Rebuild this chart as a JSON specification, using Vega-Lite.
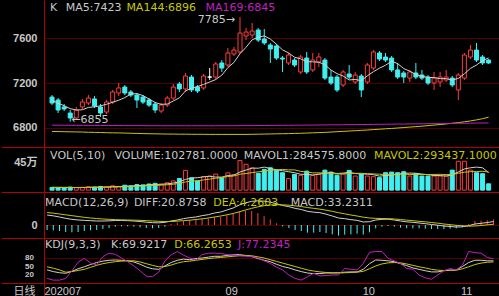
{
"$schema":"https://vega.github.io/schema/vega-lite/v6.json",
"background":"#000000","padding":0,"spacing":0,"bounds":"flush",
"config":{"view":{"stroke":null},"text":{"font":"DejaVu Sans","fontSize":11},
"axis":{"labelFont":"Liberation Sans, Noto Sans CJK SC","labelFontWeight":"bold","labelFontSize":11,"labelColor":"#c8c8c8","title":null,"domainColor":"#b00000","gridWidth":1,"minExtent":43,"maxExtent":43,"labelOverlap":false,"labelBound":false}},
"datasets":{"d":[
{"i":0,"o":7075,"h":7093,"l":7004,"c":7022,"m5":7045,"m144":6769,"m169":6825,"v":45000,"mv1":45000,"mv2":45000,"dif":60,"dea":75,"macd":-30,"k":38,"d":49,"j":8},
{"i":1,"o":7049,"h":7066,"l":6933,"c":6960,"m5":7020,"m144":6768,"m169":6825,"v":40000,"mv1":45000,"mv2":45000,"dif":55,"dea":71,"macd":-32,"k":32,"d":44,"j":2},
{"i":2,"o":6987,"h":7013,"l":6951,"c":6969,"m5":6998,"m144":6767,"m169":6825,"v":35000,"mv1":44000,"mv2":45000,"dif":48,"dea":66,"macd":-36,"k":28,"d":38,"j":2},
{"i":3,"o":6933,"h":6960,"l":6855,"c":6889,"m5":6972,"m144":6766,"m169":6824,"v":50000,"mv1":44000,"mv2":44000,"dif":40,"dea":61,"macd":-42,"k":26,"d":30,"j":8},
{"i":4,"o":6889,"h":6987,"l":6871,"c":6960,"m5":6960,"m144":6765,"m169":6824,"v":40000,"mv1":42000,"mv2":43000,"dif":34,"dea":56,"macd":-44,"k":33,"d":32,"j":35},
{"i":5,"o":6987,"h":7058,"l":6969,"c":7031,"m5":6962,"m144":6764,"m169":6824,"v":45000,"mv1":42000,"mv2":44000,"dif":30,"dea":51,"macd":-42,"k":42,"d":36,"j":65},
{"i":6,"o":7022,"h":7093,"l":7004,"c":7066,"m5":6983,"m144":6762,"m169":6823,"v":55000,"mv1":45000,"mv2":45000,"dif":28,"dea":46,"macd":-36,"k":49,"d":40,"j":79},
{"i":7,"o":7058,"h":7084,"l":6978,"c":6996,"m5":6988,"m144":6761,"m169":6823,"v":50000,"mv1":48000,"mv2":46000,"dif":26,"dea":42,"macd":-32,"k":57,"d":47,"j":62},
{"i":8,"o":6987,"h":7013,"l":6898,"c":6933,"m5":6997,"m144":6760,"m169":6823,"v":60000,"mv1":50000,"mv2":47000,"dif":24,"dea":39,"macd":-30,"k":64,"d":54,"j":56},
{"i":9,"o":6942,"h":7049,"l":6924,"c":7031,"m5":7011,"m144":6758,"m169":6822,"v":50000,"mv1":52000,"mv2":47000,"dif":24,"dea":36,"macd":-24,"k":69,"d":60,"j":85},
{"i":10,"o":7031,"h":7138,"l":7013,"c":7120,"m5":7029,"m144":6757,"m169":6822,"v":70000,"mv1":57000,"mv2":50000,"dif":25,"dea":34,"macd":-18,"k":72,"d":64,"j":97},
{"i":11,"o":7111,"h":7200,"l":7084,"c":7156,"m5":7047,"m144":6756,"m169":6822,"v":60000,"mv1":58000,"mv2":52000,"dif":27,"dea":32,"macd":-10,"k":73,"d":67,"j":93},
{"i":12,"o":7164,"h":7182,"l":7093,"c":7111,"m5":7070,"m144":6755,"m169":6821,"v":80000,"mv1":64000,"mv2":56000,"dif":27,"dea":31,"macd":-8,"k":72,"d":69,"j":80},
{"i":13,"o":7120,"h":7138,"l":7075,"c":7093,"m5":7102,"m144":6753,"m169":6821,"v":70000,"mv1":66000,"mv2":58000,"dif":26,"dea":30,"macd":-8,"k":70,"d":70,"j":67},
{"i":14,"o":7093,"h":7111,"l":6978,"c":7049,"m5":7106,"m144":6752,"m169":6821,"v":90000,"mv1":74000,"mv2":63000,"dif":24,"dea":29,"macd":-10,"k":66,"d":70,"j":52},
{"i":15,"o":7075,"h":7093,"l":7013,"c":7031,"m5":7088,"m144":6750,"m169":6821,"v":85000,"mv1":77000,"mv2":67000,"dif":21,"dea":28,"macd":-14,"k":58,"d":66,"j":35},
{"i":16,"o":7049,"h":7066,"l":6987,"c":7004,"m5":7058,"m144":6749,"m169":6820,"v":100000,"mv1":85000,"mv2":72000,"dif":17,"dea":26,"macd":-18,"k":48,"d":60,"j":16},
{"i":17,"o":7013,"h":7031,"l":6933,"c":6960,"m5":7027,"m144":6748,"m169":6820,"v":110000,"mv1":91000,"mv2":78000,"dif":14,"dea":24,"macd":-20,"k":42,"d":54,"j":14},
{"i":18,"o":6951,"h":7022,"l":6933,"c":7004,"m5":7010,"m144":6747,"m169":6820,"v":95000,"mv1":96000,"mv2":81000,"dif":13,"dea":22,"macd":-18,"k":40,"d":49,"j":30},
{"i":19,"o":7004,"h":7084,"l":6987,"c":7066,"m5":7013,"m144":6746,"m169":6820,"v":120000,"mv1":102000,"mv2":88000,"dif":16,"dea":21,"macd":-10,"k":52,"d":50,"j":70},
{"i":20,"o":7066,"h":7191,"l":7049,"c":7164,"m5":7040,"m144":6746,"m169":6820,"v":150000,"mv1":115000,"mv2":96000,"dif":24,"dea":21,"macd":6,"k":64,"d":55,"j":91},
{"i":21,"o":7191,"h":7209,"l":7120,"c":7147,"m5":7068,"m144":6745,"m169":6820,"v":190000,"mv1":133000,"mv2":109000,"dif":30,"dea":23,"macd":14,"k":72,"d":62,"j":103},
{"i":22,"o":7147,"h":7289,"l":7120,"c":7262,"m5":7129,"m144":6745,"m169":6820,"v":320000,"mv1":175000,"mv2":133000,"dif":38,"dea":26,"macd":24,"k":76,"d":67,"j":90},
{"i":23,"o":7253,"h":7271,"l":7120,"c":7138,"m5":7155,"m144":6744,"m169":6820,"v":200000,"mv1":196000,"mv2":146000,"dif":44,"dea":29,"macd":30,"k":74,"d":69,"j":80},
{"i":24,"o":7164,"h":7182,"l":7111,"c":7129,"m5":7168,"m144":6744,"m169":6820,"v":150000,"mv1":202000,"mv2":152000,"dif":48,"dea":33,"macd":30,"k":78,"d":72,"j":73},
{"i":25,"o":7156,"h":7280,"l":7138,"c":7262,"m5":7188,"m144":6744,"m169":6820,"v":220000,"mv1":216000,"mv2":166000,"dif":56,"dea":37,"macd":38,"k":80,"d":75,"j":92},
{"i":26,"o":7253,"h":7333,"l":7227,"c":7253,"m5":7209,"m144":6743,"m169":6820,"v":230000,"mv1":224000,"mv2":179000,"dif":62,"dea":42,"macd":40,"k":83,"d":78,"j":97},
{"i":27,"o":7253,"h":7387,"l":7235,"c":7369,"m5":7231,"m144":6743,"m169":6820,"v":260000,"mv1":212000,"mv2":194000,"dif":72,"dea":48,"macd":48,"k":86,"d":80,"j":97},
{"i":28,"o":7378,"h":7404,"l":7298,"c":7333,"m5":7270,"m144":6743,"m169":6820,"v":200000,"mv1":212000,"mv2":204000,"dif":78,"dea":54,"macd":48,"k":86,"d":82,"j":96},
{"i":29,"o":7360,"h":7511,"l":7342,"c":7467,"m5":7337,"m144":6743,"m169":6820,"v":280000,"mv1":238000,"mv2":220000,"dif":90,"dea":61,"macd":58,"k":89,"d":84,"j":92},
{"i":30,"o":7458,"h":7520,"l":7440,"c":7493,"m5":7383,"m144":6743,"m169":6820,"v":250000,"mv1":244000,"mv2":230000,"dif":102,"dea":69,"macd":66,"k":91,"d":86,"j":90},
{"i":31,"o":7476,"h":7785,"l":7458,"c":7644,"m5":7461,"m144":6743,"m169":6821,"v":480000,"mv1":294000,"mv2":259000,"dif":120,"dea":79,"macd":82,"k":92,"d":88,"j":88},
{"i":32,"o":7618,"h":7689,"l":7582,"c":7653,"m5":7518,"m144":6743,"m169":6821,"v":420000,"mv1":326000,"mv2":269000,"dif":133,"dea":90,"macd":86,"k":89,"d":89,"j":86},
{"i":33,"o":7627,"h":7733,"l":7600,"c":7662,"m5":7584,"m144":6744,"m169":6821,"v":360000,"mv1":358000,"mv2":285000,"dif":142,"dea":100,"macd":84,"k":85,"d":88,"j":85},
{"i":34,"o":7671,"h":7689,"l":7564,"c":7582,"m5":7607,"m144":6745,"m169":6822,"v":272000,"mv1":356000,"mv2":297000,"dif":145,"dea":109,"macd":72,"k":78,"d":84,"j":80},
{"i":35,"o":7591,"h":7680,"l":7538,"c":7556,"m5":7619,"m144":6746,"m169":6822,"v":336000,"mv1":374000,"mv2":309000,"dif":143,"dea":116,"macd":54,"k":72,"d":80,"j":70},
{"i":36,"o":7538,"h":7556,"l":7378,"c":7502,"m5":7591,"m144":6747,"m169":6823,"v":363000,"mv1":350000,"mv2":322000,"dif":137,"dea":120,"macd":34,"k":67,"d":74,"j":61},
{"i":37,"o":7529,"h":7547,"l":7404,"c":7422,"m5":7545,"m144":6748,"m169":6823,"v":325000,"mv1":331000,"mv2":329000,"dif":127,"dea":122,"macd":10,"k":58,"d":68,"j":48},
{"i":38,"o":7422,"h":7440,"l":7298,"c":7413,"m5":7495,"m144":6749,"m169":6824,"v":283000,"mv1":316000,"mv2":337000,"dif":117,"dea":121,"macd":-8,"k":50,"d":62,"j":38},
{"i":39,"o":7378,"h":7467,"l":7360,"c":7449,"m5":7468,"m144":6750,"m169":6824,"v":187000,"mv1":299000,"mv2":328000,"dif":110,"dea":119,"macd":-18,"k":45,"d":56,"j":20},
{"i":40,"o":7404,"h":7422,"l":7342,"c":7360,"m5":7429,"m144":6752,"m169":6825,"v":256000,"mv1":283000,"mv2":329000,"dif":100,"dea":115,"macd":-30,"k":38,"d":50,"j":8},
{"i":41,"o":7298,"h":7449,"l":7280,"c":7431,"m5":7415,"m144":6753,"m169":6825,"v":240000,"mv1":258000,"mv2":304000,"dif":93,"dea":111,"macd":-36,"k":32,"d":44,"j":2},
{"i":42,"o":7422,"h":7476,"l":7280,"c":7298,"m5":7390,"m144":6755,"m169":6826,"v":309000,"mv1":255000,"mv2":293000,"dif":82,"dea":105,"macd":-46,"k":27,"d":38,"j":14},
{"i":43,"o":7316,"h":7467,"l":7298,"c":7404,"m5":7388,"m144":6757,"m169":6826,"v":240000,"mv1":246000,"mv2":281000,"dif":77,"dea":100,"macd":-46,"k":25,"d":34,"j":26},
{"i":44,"o":7387,"h":7467,"l":7342,"c":7431,"m5":7385,"m144":6759,"m169":6827,"v":256000,"mv1":260000,"mv2":280000,"dif":74,"dea":95,"macd":-42,"k":25,"d":31,"j":17},
{"i":45,"o":7404,"h":7422,"l":7227,"c":7244,"m5":7362,"m144":6761,"m169":6827,"v":325000,"mv1":274000,"mv2":279000,"dif":65,"dea":89,"macd":-48,"k":27,"d":29,"j":18},
{"i":46,"o":7253,"h":7316,"l":7182,"c":7200,"m5":7315,"m144":6764,"m169":6828,"v":293000,"mv1":285000,"mv2":272000,"dif":54,"dea":82,"macd":-56,"k":27,"d":28,"j":20},
{"i":47,"o":7253,"h":7271,"l":7120,"c":7138,"m5":7283,"m144":6767,"m169":6828,"v":240000,"mv1":271000,"mv2":263000,"dif":42,"dea":74,"macd":-64,"k":28,"d":27,"j":20},
{"i":48,"o":7182,"h":7316,"l":7164,"c":7298,"m5":7262,"m144":6770,"m169":6829,"v":267000,"mv1":276000,"mv2":261000,"dif":38,"dea":67,"macd":-58,"k":30,"d":28,"j":43},
{"i":49,"o":7280,"h":7360,"l":7235,"c":7253,"m5":7227,"m144":6773,"m169":6830,"v":320000,"mv1":289000,"mv2":275000,"dif":32,"dea":60,"macd":-56,"k":31,"d":29,"j":40},
{"i":50,"o":7209,"h":7298,"l":7191,"c":7271,"m5":7232,"m144":6776,"m169":6830,"v":229000,"mv1":270000,"mv2":272000,"dif":28,"dea":54,"macd":-52,"k":31,"d":30,"j":38},
{"i":51,"o":7262,"h":7280,"l":7075,"c":7138,"m5":7220,"m144":6779,"m169":6831,"v":256000,"mv1":262000,"mv2":274000,"dif":18,"dea":47,"macd":-58,"k":40,"d":33,"j":61},
{"i":52,"o":7209,"h":7378,"l":7191,"c":7360,"m5":7264,"m144":6782,"m169":6831,"v":229000,"mv1":260000,"mv2":266000,"dif":20,"dea":42,"macd":-44,"k":60,"d":42,"j":100},
{"i":53,"o":7333,"h":7493,"l":7316,"c":7476,"m5":7300,"m144":6786,"m169":6832,"v":219000,"mv1":251000,"mv2":264000,"dif":30,"dea":40,"macd":-20,"k":73,"d":52,"j":103},
{"i":54,"o":7467,"h":7484,"l":7396,"c":7413,"m5":7332,"m144":6789,"m169":6833,"v":203000,"mv1":227000,"mv2":258000,"dif":34,"dea":39,"macd":-10,"k":72,"d":59,"j":103},
{"i":55,"o":7431,"h":7467,"l":7387,"c":7404,"m5":7358,"m144":6793,"m169":6833,"v":283000,"mv1":238000,"mv2":254000,"dif":35,"dea":38,"macd":-6,"k":70,"d":63,"j":79},
{"i":56,"o":7422,"h":7440,"l":7298,"c":7316,"m5":7394,"m144":6796,"m169":6834,"v":293000,"mv1":245000,"mv2":254000,"dif":30,"dea":36,"macd":-10,"k":67,"d":64,"j":70},
{"i":57,"o":7316,"h":7378,"l":7235,"c":7253,"m5":7372,"m144":6800,"m169":6835,"v":283000,"mv1":256000,"mv2":258000,"dif":24,"dea":33,"macd":-16,"k":60,"d":63,"j":61},
{"i":58,"o":7289,"h":7307,"l":7200,"c":7253,"m5":7328,"m144":6804,"m169":6835,"v":299000,"mv1":272000,"mv2":262000,"dif":19,"dea":29,"macd":-20,"k":53,"d":59,"j":43},
{"i":59,"o":7244,"h":7316,"l":7209,"c":7298,"m5":7305,"m144":6808,"m169":6836,"v":229000,"mv1":277000,"mv2":252000,"dif":16,"dea":26,"macd":-20,"k":45,"d":54,"j":40},
{"i":60,"o":7289,"h":7378,"l":7235,"c":7253,"m5":7275,"m144":6812,"m169":6837,"v":267000,"mv1":274000,"mv2":256000,"dif":12,"dea":22,"macd":-20,"k":40,"d":49,"j":20},
{"i":61,"o":7271,"h":7316,"l":7227,"c":7244,"m5":7260,"m144":6816,"m169":6837,"v":229000,"mv1":261000,"mv2":253000,"dif":8,"dea":19,"macd":-22,"k":35,"d":45,"j":10},
{"i":62,"o":7253,"h":7271,"l":7182,"c":7200,"m5":7250,"m144":6821,"m169":6838,"v":229000,"mv1":251000,"mv2":254000,"dif":3,"dea":15,"macd":-24,"k":31,"d":40,"j":5},
{"i":63,"o":7200,"h":7298,"l":7138,"c":7244,"m5":7248,"m144":6826,"m169":6839,"v":229000,"mv1":237000,"mv2":255000,"dif":-1,"dea":11,"macd":-24,"k":31,"d":37,"j":20},
{"i":64,"o":7209,"h":7298,"l":7164,"c":7253,"m5":7239,"m144":6831,"m169":6839,"v":229000,"mv1":237000,"mv2":257000,"dif":-6,"dea":6,"macd":-24,"k":35,"d":36,"j":35},
{"i":65,"o":7227,"h":7316,"l":7209,"c":7253,"m5":7239,"m144":6836,"m169":6840,"v":229000,"mv1":229000,"mv2":252000,"dif":-9,"dea":2,"macd":-22,"k":37,"d":37,"j":43},
{"i":66,"o":7244,"h":7262,"l":7164,"c":7182,"m5":7226,"m144":6842,"m169":6841,"v":325000,"mv1":248000,"mv2":255000,"dif":-12,"dea":-2,"macd":-20,"k":38,"d":37,"j":38},
{"i":67,"o":7138,"h":7289,"l":7049,"c":7271,"m5":7241,"m144":6848,"m169":6842,"v":469000,"mv1":296000,"mv2":274000,"dif":-11,"dea":-5,"macd":-12,"k":50,"d":42,"j":55},
{"i":68,"o":7244,"h":7467,"l":7227,"c":7449,"m5":7282,"m144":6855,"m169":6842,"v":469000,"mv1":344000,"mv2":291000,"dif":-4,"dea":-7,"macd":6,"k":64,"d":49,"j":103},
{"i":69,"o":7431,"h":7538,"l":7413,"c":7493,"m5":7330,"m144":6863,"m169":6843,"v":325000,"mv1":363000,"mv2":300000,"dif":6,"dea":-6,"macd":24,"k":72,"d":57,"j":99},
{"i":70,"o":7493,"h":7556,"l":7387,"c":7404,"m5":7360,"m144":6872,"m169":6844,"v":283000,"mv1":374000,"mv2":302000,"dif":10,"dea":-3,"macd":26,"k":72,"d":62,"j":97},
{"i":71,"o":7431,"h":7449,"l":7360,"c":7378,"m5":7399,"m144":6883,"m169":6844,"v":267000,"mv1":363000,"mv2":306000,"dif":15,"dea":1,"macd":28,"k":70,"d":65,"j":82},
{"i":72,"o":7404,"h":7413,"l":7369,"c":7378,"m5":7423,"m144":6896,"m169":6845,"v":102781,"mv1":284576,"mv2":293437,"dif":20.88,"dea":4.26,"macd":33.23,"k":69.92,"d":66.27,"j":77.23}
]},
"vconcat":[
{"width":456,"height":147,"data":{"name":"d"},
 "encoding":{"x":{"field":"i","type":"quantitative","scale":{"domain":[-0.5,73.05],"nice":false,"zero":false},"axis":null}},
 "layer":[
  {"mark":{"type":"rule","strokeWidth":1},"encoding":{"y":{"field":"l","type":"quantitative","scale":{"domain":[6631,7938],"nice":false,"zero":false},
    "axis":{"values":[6631,6800,7200,7600],"labelExpr":"datum.value < 6700 ? '' : '' + datum.value","grid":true,"gridColor":{"condition":{"test":"datum.value < 6700","value":"#b00000"},"value":"#500000"},"tickSize":43,"tickColor":{"condition":{"test":"datum.value < 6700","value":"#b00000"},"value":"transparent"},"labelPadding":-36}},
   "y2":{"field":"h"},"color":{"condition":[{"test":"datum.c < datum.o","value":"#40f0f0"},{"test":"datum.c == datum.o","value":"#ffffff"}],"value":"#ff3c3c"}}},
  {"mark":{"type":"bar","width":4,"strokeWidth":1},"encoding":{"y":{"field":"o","type":"quantitative","scale":{"domain":[6631,7938],"nice":false,"zero":false}},"y2":{"field":"c"},
   "fill":{"condition":[{"test":"datum.c < datum.o","value":"#40f0f0"},{"test":"datum.c == datum.o","value":"#ffffff"}],"value":"#000000"},
   "stroke":{"condition":[{"test":"datum.c < datum.o","value":"#40f0f0"},{"test":"datum.c == datum.o","value":"#ffffff"}],"value":"#ff3c3c"}}},
  {"mark":{"type":"line","strokeWidth":1,"color":"#d0d0d0"},"encoding":{"y":{"field":"m5","type":"quantitative","scale":{"domain":[6631,7938],"nice":false,"zero":false}}}},
  {"mark":{"type":"line","strokeWidth":1,"color":"#c8c800"},"encoding":{"y":{"field":"m144","type":"quantitative","scale":{"domain":[6631,7938],"nice":false,"zero":false}}}},
  {"mark":{"type":"line","strokeWidth":1,"color":"#c020c0"},"encoding":{"y":{"field":"m169","type":"quantitative","scale":{"domain":[6631,7938],"nice":false,"zero":false}}}},
  {"transform":[{"filter":"datum.i == 72"}],"mark":{"type":"text","align":"left","baseline":"middle","color":"#c8c8c8"},"encoding":{"x":{"datum":-0.32,"type":"quantitative"},"y":{"datum":7867,"type":"quantitative"},"text":{"value":"K"}}},
  {"transform":[{"filter":"datum.i == 72"}],"mark":{"type":"text","align":"left","baseline":"middle","color":"#c8c8c8"},"encoding":{"x":{"datum":2.26,"type":"quantitative"},"y":{"datum":7867,"type":"quantitative"},"text":{"value":"MA5:7423"}}},
  {"transform":[{"filter":"datum.i == 72"}],"mark":{"type":"text","align":"left","baseline":"middle","color":"#c8c800"},"encoding":{"x":{"datum":12.26,"type":"quantitative"},"y":{"datum":7867,"type":"quantitative"},"text":{"value":"MA144:6896"}}},
  {"transform":[{"filter":"datum.i == 72"}],"mark":{"type":"text","align":"left","baseline":"middle","color":"#c020c0"},"encoding":{"x":{"datum":25.3,"type":"quantitative"},"y":{"datum":7867,"type":"quantitative"},"text":{"value":"MA169:6845"}}},
  {"transform":[{"filter":"datum.i == 31"}],"mark":{"type":"text","align":"right","baseline":"middle","color":"#c8c8c8","dx":-5,"dy":3},"encoding":{"y":{"field":"h","type":"quantitative"},"text":{"value":"7785→"}}},
  {"transform":[{"filter":"datum.i == 3"}],"mark":{"type":"text","align":"left","baseline":"middle","color":"#c8c8c8","dx":1,"dy":-2},"encoding":{"y":{"field":"l","type":"quantitative"},"text":{"value":"←6855"}}}
 ]},
{"width":456,"height":45,"data":{"name":"d"},
 "encoding":{"x":{"field":"i","type":"quantitative","scale":{"domain":[-0.5,73.05],"nice":false,"zero":false},"axis":null}},
 "layer":[
  {"mark":{"type":"bar","width":4,"strokeWidth":1},"encoding":{"y":{"field":"v","type":"quantitative","scale":{"domain":[-30000,700000],"nice":false,"zero":false},
    "axis":{"values":[-30000,450000],"labelExpr":"datum.value < 0 ? '' : '45万'","grid":true,"gridColor":{"condition":{"test":"datum.value < 0","value":"#b00000"},"value":"transparent"},"tickSize":43,"tickColor":{"condition":{"test":"datum.value < 0","value":"#b00000"},"value":"transparent"},"labelPadding":-36}},
   "y2":{"datum":0},
   "fill":{"condition":{"test":"datum.c < datum.o","value":"#40f0f0"},"value":"#000000"},
   "stroke":{"condition":{"test":"datum.c < datum.o","value":"#40f0f0"},"value":"#ff3c3c"}}},
  {"mark":{"type":"line","strokeWidth":1,"color":"#d0d0d0"},"encoding":{"y":{"field":"mv1","type":"quantitative","scale":{"domain":[-30000,700000],"nice":false,"zero":false}}}},
  {"mark":{"type":"line","strokeWidth":1,"color":"#c8c800"},"encoding":{"y":{"field":"mv2","type":"quantitative","scale":{"domain":[-30000,700000],"nice":false,"zero":false}}}},
  {"transform":[{"filter":"datum.i == 72"}],"mark":{"type":"text","align":"left","baseline":"middle","color":"#c8c8c8"},"encoding":{"x":{"datum":-0.32,"type":"quantitative"},"y":{"datum":554000,"type":"quantitative"},"text":{"value":"VOL(5,10)"}}},
  {"transform":[{"filter":"datum.i == 72"}],"mark":{"type":"text","align":"left","baseline":"middle","color":"#c8c8c8"},"encoding":{"x":{"datum":10.3,"type":"quantitative"},"y":{"datum":554000,"type":"quantitative"},"text":{"value":"VOLUME:102781.0000"}}},
  {"transform":[{"filter":"datum.i == 72"}],"mark":{"type":"text","align":"left","baseline":"middle","color":"#c8c8c8"},"encoding":{"x":{"datum":31.6,"type":"quantitative"},"y":{"datum":554000,"type":"quantitative"},"text":{"value":"MAVOL1:284575.8000"}}},
  {"transform":[{"filter":"datum.i == 72"}],"mark":{"type":"text","align":"left","baseline":"middle","color":"#c8c800","limit":124,"ellipsis":"\u200b"},"encoding":{"x":{"datum":53.1,"type":"quantitative"},"y":{"datum":554000,"type":"quantitative"},"text":{"value":"MAVOL2:293437.1000"}}}
 ]},
{"width":456,"height":46,"data":{"name":"d"},
 "encoding":{"x":{"field":"i","type":"quantitative","scale":{"domain":[-0.5,73.05],"nice":false,"zero":false},"axis":null}},
 "layer":[
  {"mark":{"type":"rule","strokeWidth":1},"encoding":{"y":{"field":"macd","type":"quantitative","scale":{"domain":[-78,198],"nice":false,"zero":false},
    "axis":{"values":[-78,0],"labelExpr":"datum.value < -1 ? '' : '0'","grid":true,"gridColor":{"condition":{"test":"datum.value < -1","value":"#b00000"},"value":"#500000"},"tickSize":43,"tickColor":{"condition":{"test":"datum.value < -1","value":"#b00000"},"value":"transparent"},"labelPadding":-36}},
   "y2":{"datum":0},"color":{"condition":{"test":"datum.macd < 0","value":"#40f0f0"},"value":"#ff3c3c"}}},
  {"mark":{"type":"line","strokeWidth":1,"color":"#d0d0d0"},"encoding":{"y":{"field":"dif","type":"quantitative","scale":{"domain":[-78,198],"nice":false,"zero":false}}}},
  {"mark":{"type":"line","strokeWidth":1,"color":"#c8c800"},"encoding":{"y":{"field":"dea","type":"quantitative","scale":{"domain":[-78,198],"nice":false,"zero":false}}}},
  {"transform":[{"filter":"datum.i == 72"}],"mark":{"type":"text","align":"left","baseline":"middle","color":"#c8c8c8"},"encoding":{"x":{"datum":-0.32,"type":"quantitative"},"y":{"datum":132,"type":"quantitative"},"text":{"value":"MACD(12,26,9)"}}},
  {"transform":[{"filter":"datum.i == 72"}],"mark":{"type":"text","align":"left","baseline":"middle","color":"#c8c8c8"},"encoding":{"x":{"datum":14.0,"type":"quantitative"},"y":{"datum":132,"type":"quantitative"},"text":{"value":"DIFF:20.8758"}}},
  {"transform":[{"filter":"datum.i == 72"}],"mark":{"type":"text","align":"left","baseline":"middle","color":"#c8c800"},"encoding":{"x":{"datum":26.8,"type":"quantitative"},"y":{"datum":132,"type":"quantitative"},"text":{"value":"DEA:4.2603"}}},
  {"transform":[{"filter":"datum.i == 72"}],"mark":{"type":"text","align":"left","baseline":"middle","color":"#c8c8c8"},"encoding":{"x":{"datum":39.3,"type":"quantitative"},"y":{"datum":132,"type":"quantitative"},"text":{"value":"MACD:33.2311"}}}
 ]},
{"width":456,"height":45,"data":{"name":"d"},
 "encoding":{"x":{"field":"i","type":"quantitative","scale":{"domain":[-0.5,73.05],"nice":false,"zero":false},
   "axis":{"values":[-0.5,29.7,51.8,67.6],"labelExpr":"datum.value < 0 ? '202007' : datum.value < 40 ? '09' : datum.value < 60 ? '10' : '11'","labelAlign":{"condition":{"test":"datum.value < 0","value":"left"},"value":"center"},"labelFont":"Liberation Sans","labelFontWeight":"normal","labelPadding":-11,"domain":false,"ticks":true,"tickSize":13,"tickColor":{"condition":{"test":"datum.value < 0","value":"#b00000"},"value":"transparent"},"grid":false,"minExtent":13,"maxExtent":13,
   "title":"日线","titleFont":"Noto Sans CJK SC","titleFontSize":11,"titleFontWeight":"normal","titleColor":"#c8c8c8","titleX":-31,"titleY":8,"titleAlign":"left","titleBaseline":"middle","titleAnchor":"start"}}},
 "layer":[
  {"mark":{"type":"line","strokeWidth":1,"color":"#d0d0d0"},"encoding":{"y":{"field":"k","type":"quantitative","scale":{"domain":[-8.2,150.6],"nice":false,"zero":false},
    "axis":{"values":[-8.2,20,50,80],"labelExpr":"''","grid":true,"gridColor":{"condition":{"test":"datum.value < 0","value":"#b00000"},"value":"#500000"},"tickSize":43,"tickColor":{"condition":{"test":"datum.value < 0","value":"#b00000"},"value":"transparent"},"labelPadding":-35}}}},
  {"mark":{"type":"line","strokeWidth":1,"color":"#c8c800"},"encoding":{"y":{"field":"d","type":"quantitative","scale":{"domain":[-8.2,150.6],"nice":false,"zero":false}}}},
  {"mark":{"type":"line","strokeWidth":1,"color":"#c020c0"},"encoding":{"y":{"field":"j","type":"quantitative","scale":{"domain":[-8.2,150.6],"nice":false,"zero":false}}}},
  {"transform":[{"filter":"datum.i == 72"}],"mark":{"type":"text","align":"right","baseline":"middle","color":"#c8c8c8","font":"Liberation Sans","fontWeight":"bold","fontSize":8,"dx":-10},"encoding":{"x":{"datum":-0.5,"type":"quantitative"},"y":{"datum":80,"type":"quantitative"},"text":{"value":"80"}}},
  {"transform":[{"filter":"datum.i == 72"}],"mark":{"type":"text","align":"right","baseline":"middle","color":"#c8c8c8","font":"Liberation Sans","fontWeight":"bold","fontSize":8,"dx":-10},"encoding":{"x":{"datum":-0.5,"type":"quantitative"},"y":{"datum":50,"type":"quantitative"},"text":{"value":"50"}}},
  {"transform":[{"filter":"datum.i == 72"}],"mark":{"type":"text","align":"right","baseline":"middle","color":"#c8c8c8","font":"Liberation Sans","fontWeight":"bold","fontSize":8,"dx":-10},"encoding":{"x":{"datum":-0.5,"type":"quantitative"},"y":{"datum":20,"type":"quantitative"},"text":{"value":"20"}}},
  {"transform":[{"filter":"datum.i == 72"}],"mark":{"type":"text","align":"left","baseline":"middle","color":"#c8c8c8"},"encoding":{"x":{"datum":-0.32,"type":"quantitative"},"y":{"datum":126,"type":"quantitative"},"text":{"value":"KDJ(9,3,3)"}}},
  {"transform":[{"filter":"datum.i == 72"}],"mark":{"type":"text","align":"left","baseline":"middle","color":"#c8c8c8"},"encoding":{"x":{"datum":10.3,"type":"quantitative"},"y":{"datum":126,"type":"quantitative"},"text":{"value":"K:69.9217"}}},
  {"transform":[{"filter":"datum.i == 72"}],"mark":{"type":"text","align":"left","baseline":"middle","color":"#c8c800"},"encoding":{"x":{"datum":20.5,"type":"quantitative"},"y":{"datum":126,"type":"quantitative"},"text":{"value":"D:66.2653"}}},
  {"transform":[{"filter":"datum.i == 72"}],"mark":{"type":"text","align":"left","baseline":"middle","color":"#c020c0"},"encoding":{"x":{"datum":30.8,"type":"quantitative"},"y":{"datum":126,"type":"quantitative"},"text":{"value":"J:77.2345"}}}
 ]}
]
}
